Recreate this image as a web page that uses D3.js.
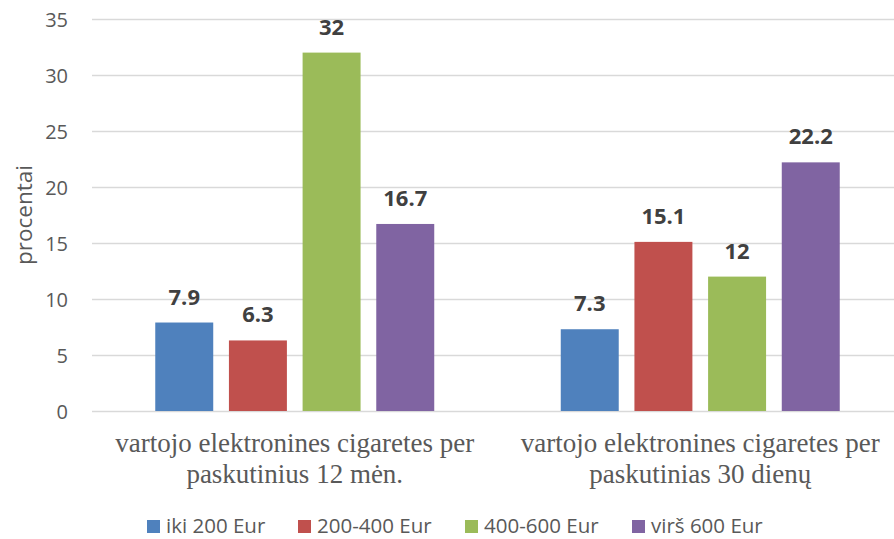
<!DOCTYPE html>
<html>
<head>
<meta charset="utf-8">
<script src="https://cdn.jsdelivr.net/npm/d3@7"></script>
<style>
  html, body { margin: 0; padding: 0; background: #fff; }
  svg { display: block; }
</style>
</head>
<body>
<svg id="chart" width="894" height="539"></svg>
<script>
// ---- data ----
const categories = [
  ["vartojo elektronines cigaretes per", "paskutinius 12 mėn."],
  ["vartojo elektronines cigaretes per", "paskutinias 30 dienų"]
];
const seriesNames = ["iki 200 Eur", "200-400 Eur", "400-600 Eur", "virš 600 Eur"];
const seriesValues = [
  [7.9, 7.3],
  [6.3, 15.1],
  [32, 12],
  [16.7, 22.2]
];
const yTicks = [0, 5, 10, 15, 20, 25, 30, 35];
const colors = ["#4f81bd", "#c0504d", "#9bbb59", "#8064a2"];

// ---- layout ----
const W = 894, H = 539;
const plot = { left: 92, right: 903, top: 19, bottom: 411 };
const svg = d3.select("#chart");

const y = d3.scaleLinear().domain([0, 35]).range([plot.bottom, plot.top]);
const x0 = d3.scaleBand().domain(d3.range(categories.length))
  .range([plot.left, plot.right]).paddingInner(0.312).paddingOuter(0.156);
const x1 = d3.scaleBand().domain(d3.range(seriesNames.length))
  .range([0, x0.bandwidth()]).paddingInner(0.213).paddingOuter(0);

// gridlines
svg.append("g").selectAll("line").data(yTicks).join("line")
  .attr("x1", plot.left).attr("x2", W)
  .attr("y1", d => Math.round(y(d)) + 0.5).attr("y2", d => Math.round(y(d)) + 0.5)
  .attr("stroke", "#d9d9d9").attr("stroke-width", 1.3);

// y axis labels
const yAxis = d3.axisLeft(y).tickValues(yTicks).tickSize(0).tickPadding(0);
const yg = svg.append("g").attr("transform", `translate(68,0)`).call(yAxis);
yg.select(".domain").remove();
yg.selectAll("text")
  .attr("font-family", "'Open Sans', sans-serif").attr("font-size", 20)
  .attr("fill", "#595959").attr("dy", "0.35em");

// y title
svg.append("text")
  .attr("transform", `translate(32,${(plot.top + plot.bottom) / 2})`).attr("dy", 0)
  .attr("transform", `translate(32,215) rotate(-90)`)
  .attr("text-anchor", "middle")
  .attr("font-family", "'Open Sans', sans-serif").attr("font-size", 22.5)
  .attr("fill", "#595959").text("procentai");

// bars
const groups = svg.append("g").selectAll("g").data(categories).join("g")
  .attr("transform", (d, i) => `translate(${x0(i)},0)`);
groups.each(function(cat, ci) {
  const g = d3.select(this);
  seriesNames.forEach((s, si) => {
    const v = seriesValues[si][ci];
    g.append("rect")
      .attr("x", x1(si)).attr("width", x1.bandwidth())
      .attr("y", y(v)).attr("height", y(0) - y(v))
      .attr("fill", colors[si]);
    g.append("text")
      .attr("x", x1(si) + x1.bandwidth() / 2).attr("y", y(v) - 18)
      .attr("text-anchor", "middle")
      .attr("font-family", "'Open Sans', sans-serif").attr("font-weight", "bold")
      .attr("font-size", 22).attr("fill", "#404040")
      .text(v);
  });
});

// category labels
svg.append("g").selectAll("text").data(categories).join("text")
  .attr("text-anchor", "middle")
  .attr("font-family", "'Liberation Serif', 'Times New Roman', serif")
  .attr("font-size", 27).attr("fill", "#595959")
  .each(function(lines, i) {
    const t = d3.select(this);
    const cx = x0(i) + x0.bandwidth() / 2;
    lines.forEach((ln, li) => {
      t.append("tspan").attr("x", cx).attr("y", 452 + li * 31).text(ln);
    });
  });

// legend
const legendX = [147, 298, 465, 632];
const lg = svg.append("g").selectAll("g").data(seriesNames).join("g")
  .attr("transform", (d, i) => `translate(${legendX[i]},520)`);
lg.append("rect").attr("width", 13).attr("height", 13).attr("fill", (d, i) => colors[i]);
lg.append("text").attr("x", 19).attr("y", 13)
  .attr("font-family", "'Open Sans', sans-serif").attr("font-size", 20.5)
  .attr("fill", "#595959").text(d => d);
</script>
</body>
</html>
